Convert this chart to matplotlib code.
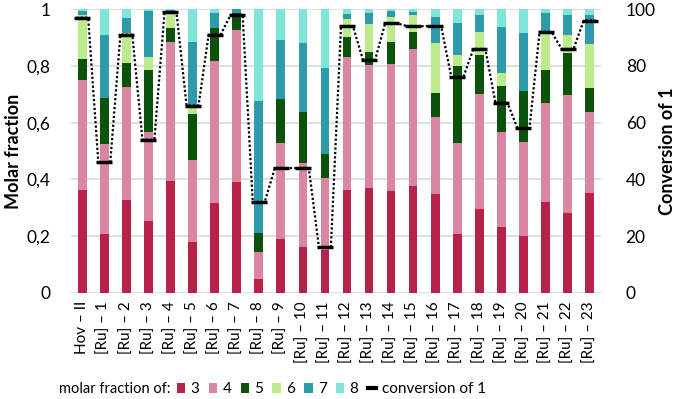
import matplotlib.pyplot as plt
import numpy as np

# categories
labels = ['Hov – II'] + ['[Ru] – %d' % i for i in range(1, 24)]

# molar fractions of the products
frac3 = [0.363, 0.208, 0.327, 0.255, 0.393, 0.180, 0.317, 0.392, 0.048, 0.191, 0.160, 0.151,
         0.362, 0.369, 0.360, 0.378, 0.347, 0.209, 0.295, 0.232, 0.200, 0.320, 0.283, 0.351]
frac4 = [0.387, 0.317, 0.398, 0.312, 0.493, 0.289, 0.499, 0.536, 0.095, 0.336, 0.298, 0.255,
         0.471, 0.433, 0.447, 0.482, 0.273, 0.318, 0.407, 0.335, 0.333, 0.349, 0.414, 0.286]
frac5 = [0.075, 0.163, 0.086, 0.217, 0.046, 0.161, 0.119, 0.057, 0.068, 0.158, 0.179, 0.083,
         0.068, 0.048, 0.076, 0.058, 0.083, 0.272, 0.135, 0.161, 0.177, 0.117, 0.148, 0.084]
frac6 = [0.155, 0.000, 0.104, 0.046, 0.061, 0.026, 0.000, 0.000, 0.000, 0.000, 0.000, 0.000,
         0.064, 0.097, 0.091, 0.061, 0.177, 0.039, 0.083, 0.048, 0.000, 0.134, 0.063, 0.155]
frac7 = [0.015, 0.220, 0.054, 0.164, 0.005, 0.230, 0.052, 0.015, 0.466, 0.206, 0.243, 0.304,
         0.017, 0.040, 0.020, 0.010, 0.094, 0.114, 0.060, 0.162, 0.205, 0.067, 0.070, 0.104]
frac8 = [0.005, 0.092, 0.031, 0.006, 0.002, 0.114, 0.013, 0.000, 0.323, 0.109, 0.120, 0.207,
         0.018, 0.013, 0.006, 0.011, 0.026, 0.048, 0.020, 0.062, 0.085, 0.013, 0.022, 0.020]

# conversion of 1 in %
conversion = [97, 46, 91, 54, 99, 66, 91, 98, 32, 44, 44, 16,
              94, 82, 95, 94, 94, 76, 86, 67, 58, 92, 86, 96]

series = [('3', frac3, '#B72248'), ('4', frac4, '#DA86A3'), ('5', frac5, '#0B530B'),
          ('6', frac6, '#BDEB8C'), ('7', frac7, '#2E9BAA'), ('8', frac8, '#7FE5D8')]

plt.rcParams['font.family'] = ['Lato', 'DejaVu Sans']

fig = plt.figure(figsize=(6.78, 3.99), dpi=100)
ax = fig.add_axes([0.105, 0.266, 0.781, 0.711])

x = np.arange(len(labels))
bottom = np.zeros(len(labels))
handles = []
for name, vals, col in series:
    b = ax.bar(x, vals, 0.39, bottom=bottom, color=col, label=name, zorder=2)
    bottom += np.array(vals)
    handles.append(b)

ax.set_ylim(0, 1)
ax.set_xlim(-0.5, len(labels) - 0.5)
ax.set_yticks(np.arange(0, 1.01, 0.2))
ax.set_yticklabels(['0', '0,2', '0,4', '0,6', '0,8', '1'])
ax.grid(axis='y', color='#d5dcdc', linewidth=1.2, zorder=0)
ax.set_axisbelow(True)
for s in ax.spines.values():
    s.set_visible(False)
ax.tick_params(axis='y', length=0, labelsize=12.5, pad=15)
ax.tick_params(axis='x', length=0, labelsize=11, pad=6)
ax.set_xticks(x)
ax.set_xticklabels(labels, rotation=90)
ax.set_ylabel('Molar fraction', fontsize=13, fontweight='bold')
ax.yaxis.set_label_coords(-0.092, 0.5)

ax2 = ax.twinx()
ax2.set_ylim(0, 100)
ax2.set_yticks(np.arange(0, 101, 20))
for s in ax2.spines.values():
    s.set_visible(False)
ax2.tick_params(axis='y', length=0, labelsize=12.5, pad=18)
ax2.set_ylabel('Conversion of 1', fontsize=13, fontweight='bold')
ax2.yaxis.set_label_coords(1.11, 0.5)

# dotted line joins the ends of the dash markers
half = 0.27
lx = np.ravel(np.column_stack([x - half, x + half]))
ly = np.repeat(conversion, 2)
ax2.plot(lx, ly, color='black', linestyle=(0, (1, 1)), linewidth=1.6, zorder=3)
ax2.plot(x, conversion, color='black', linestyle='none', marker='_',
         markersize=12, markeredgewidth=2.5, zorder=4)

# legend
fig.text(59 / 678, 0.024, 'molar fraction of:', fontsize=10.5, va='center', ha='left')
leg_h = handles + [plt.Line2D([], [], color='black', linewidth=3)]
leg_l = [s[0] for s in series] + ['conversion of 1']
fig.legend(leg_h, leg_l, loc='center left', bbox_to_anchor=(177 / 678, 0.024), ncol=7,
           frameon=False, fontsize=11, handlelength=0.55, handleheight=0.55,
           handletextpad=0.35, columnspacing=0.6, borderpad=0, borderaxespad=0)

fig.savefig('out.png', dpi=100)
